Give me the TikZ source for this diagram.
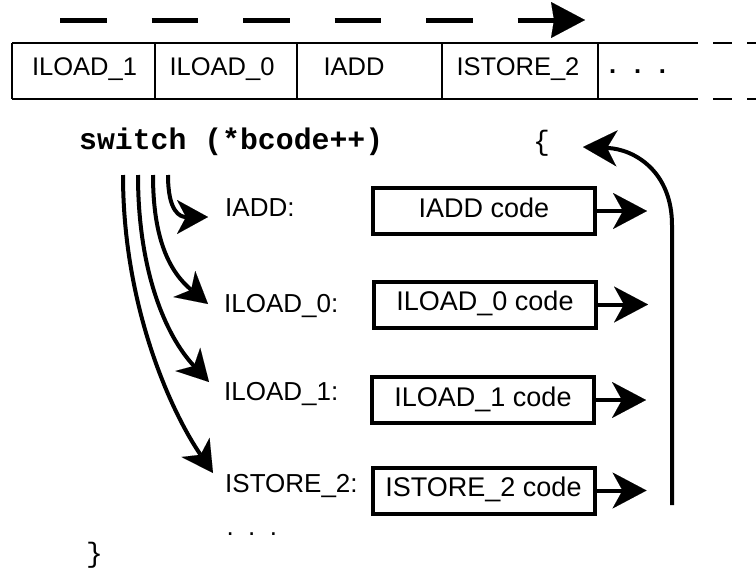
\documentclass[tikz,border=0pt]{standalone}
\usepackage{fontspec}
\setmainfont{Liberation Sans}
\newfontfamily\codefont{Liberation Mono}
\usetikzlibrary{arrows.meta}
\newcommand{\spreaddots}[1]{.\kern#1.\kern#1.}
\tikzset{
  x=1pt, y=-1pt,
  cell text/.style={font=\fontsize{25.5}{30}\selectfont, inner sep=0pt, anchor=base},
  case label/.style={font=\fontsize{26}{30}\selectfont, inner sep=0pt, anchor=base west},
  code box/.style={draw, line width=4pt, minimum width=222pt, minimum height=46pt,
    inner sep=0pt, text height=18pt, text depth=6pt, font=\fontsize{27}{30}\selectfont},
  brace/.style={font=\codefont\fontsize{28}{30}\selectfont, inner sep=0pt, anchor=base west},
  table line/.style={line width=2pt},
  big tip/.style={-{Stealth[length=34pt,width=36pt,inset=10pt,line width=0.01pt]}},
  case tip/.style={-{Stealth[length=31pt,width=34pt,inset=9pt,line width=0.01pt]}},
  box arrow/.style={line width=4pt, big tip},
  case arrow/.style={line width=4pt, case tip},
  stream arrow/.style={line width=5pt, line cap=butt, dash pattern=on 46.5pt off 45pt,
    -{Stealth[length=34pt,width=36pt,inset=3pt,line width=0.01pt]}},
}
\begin{document}
\begin{tikzpicture}
\useasboundingbox (0,0) rectangle (756,573);

% direction of travel through the bytecode stream
\coordinate (sa) at (60,20);
\coordinate (sb) at (585,20);
\draw[stream arrow] (sa) -- (sb);

% bytecode array
\draw[table line] (12,43) -- (698,43) (12,99) -- (698,99);
\draw[table line, dash pattern=on 19pt off 15pt] (713,43) -- (756,43) (713,99) -- (756,99);
\foreach \xx in {12,155,297,442,598} \draw[table line] (\xx,43) -- (\xx,99);
\node[cell text] (c1) at (84.5,75) {ILOAD\_1};
\node[cell text] (c2) at (222,75) {ILOAD\_0};
\node[cell text] (c3) at (354,75) {IADD};
\node[cell text] (c4) at (518,75) {ISTORE\_2};
\node[cell text, anchor=base west, font=\bfseries\fontsize{25.5}{30}\selectfont] (c5) at (609,73.5) {\spreaddots{17.8pt}};

% dispatch loop
\node[font=\codefont\bfseries\fontsize{29.8}{32}\selectfont, inner sep=0pt, anchor=base west]
  (sw) at (79,149) {switch (*bcode++)};
\node[brace] (open) at (533,150) {\{};
\node[brace] (close) at (86,562) {\}};

\node[case label] (l1) at (225,216) {IADD:};
\node[case label] (l2) at (224,312) {ILOAD\_0:};
\node[case label] (l3) at (224,400) {ILOAD\_1:};
\node[case label] (l4) at (225,492) {ISTORE\_2:};
\node[case label] (l5) at (226.5,535) {\spreaddots{14.3pt}};

\node[code box] (b1) at (484,211) {IADD code};
\node[code box] (b2) at (485,304.5) {ILOAD\_0 code};
\node[code box] (b3) at (483,400) {ILOAD\_1 code};
\node[code box] (b4) at (483.5,490.5) {ISTORE\_2 code};

% jumps from the switch to each case
\coordinate (s1) at (123,175);
\coordinate (s2) at (138,175);
\coordinate (s3) at (153,175);
\coordinate (s4) at (168,175);
\coordinate (t1) at (213,473);
\coordinate (t2) at (209,382);
\coordinate (t3) at (208,304);
\coordinate (t4) at (208,217);
\draw[case arrow] (s4) .. controls (168,212) and (180,217) .. (t4);
\draw[case arrow] (s3) .. controls (153,240) and (170,272) .. (t3);
\draw[case arrow] (s2) .. controls (138,270) and (165,335) .. (t2);
\draw[case arrow] (s1) .. controls (123,305) and (170,410) .. (t1);

% each case leaves towards the loop back edge
\foreach \b in {b1,b2,b3,b4} {
  \path (\b.east) ++(50,0) coordinate (\b-out);
  \draw[box arrow] (\b.east) -- (\b-out);
}

% back edge to the top of the loop
\coordinate (r0) at (672,505);
\coordinate (r1) at (672,225);
\coordinate (r2) at (583,147);
\draw[line width=4pt, big tip] (r0) -- (r1) .. controls (672,172) and (635,149) .. (r2);
\end{tikzpicture}
\end{document}
